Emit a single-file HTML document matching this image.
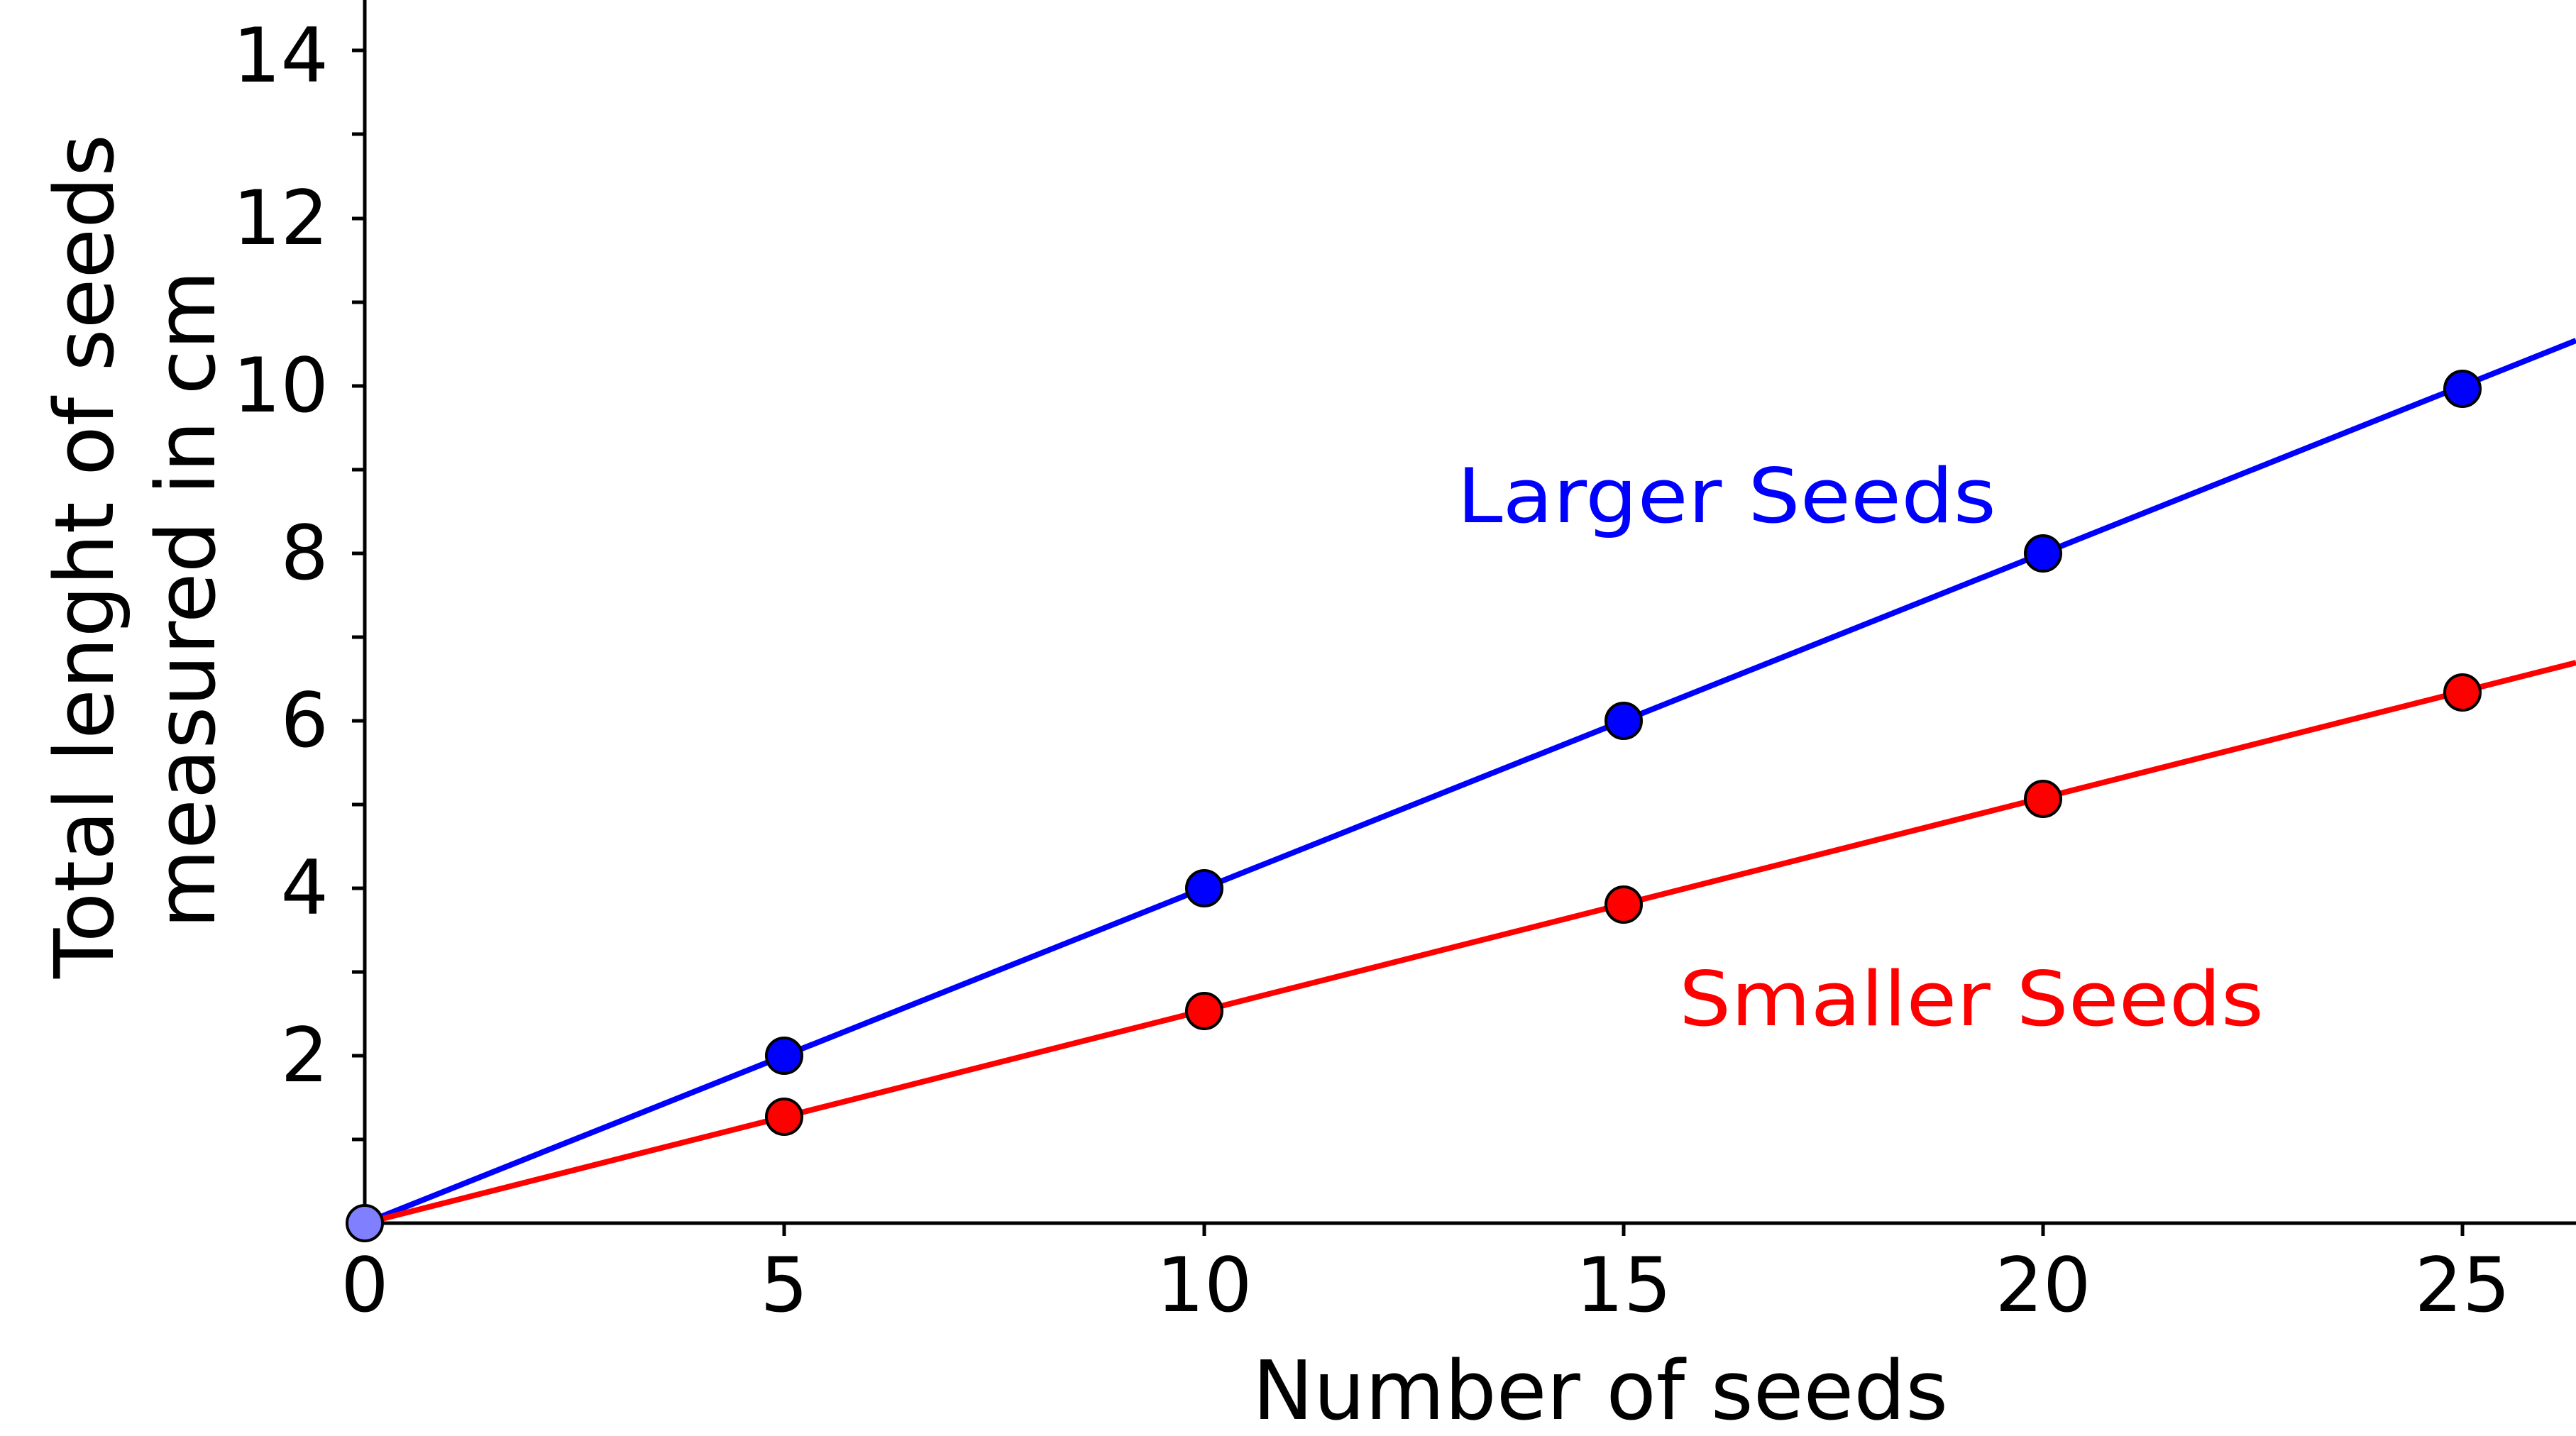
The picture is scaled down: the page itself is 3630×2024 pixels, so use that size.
<!DOCTYPE html>
<html><head><meta charset="utf-8"><style>
html,body{margin:0;padding:0;background:#fff;}
svg{display:block;}
text{font-family:"DejaVu Sans","Liberation Sans",sans-serif;}
</style></head><body>
<svg width="3630" height="2024" viewBox="0 0 3630 2024" xmlns="http://www.w3.org/2000/svg">
<rect width="3630" height="2024" fill="#fff"/>
<line x1="514" y1="0" x2="514" y2="1724" stroke="#000" stroke-width="5"/>
<line x1="512" y1="1724" x2="3630" y2="1724" stroke="#000" stroke-width="5"/>
<g stroke="#000" stroke-width="5">
<line x1="496" y1="1606" x2="514" y2="1606"/>
<line x1="496" y1="1488" x2="514" y2="1488"/>
<line x1="496" y1="1370" x2="514" y2="1370"/>
<line x1="496" y1="1252" x2="514" y2="1252"/>
<line x1="496" y1="1134" x2="514" y2="1134"/>
<line x1="496" y1="1016" x2="514" y2="1016"/>
<line x1="496" y1="898" x2="514" y2="898"/>
<line x1="496" y1="780" x2="514" y2="780"/>
<line x1="496" y1="662" x2="514" y2="662"/>
<line x1="496" y1="544" x2="514" y2="544"/>
<line x1="496" y1="426" x2="514" y2="426"/>
<line x1="496" y1="308" x2="514" y2="308"/>
<line x1="496" y1="189" x2="514" y2="189"/>
<line x1="496" y1="71" x2="514" y2="71"/>
<line x1="1105" y1="1724" x2="1105" y2="1742"/>
<line x1="1697" y1="1724" x2="1697" y2="1742"/>
<line x1="2288" y1="1724" x2="2288" y2="1742"/>
<line x1="2879" y1="1724" x2="2879" y2="1742"/>
<line x1="3470" y1="1724" x2="3470" y2="1742"/>
</g>
<g font-size="106" text-anchor="end" fill="#000">
<text x="463" y="1524">2</text>
<text x="463" y="1288">4</text>
<text x="463" y="1052">6</text>
<text x="463" y="816">8</text>
<text x="463" y="580">10</text>
<text x="463" y="344">12</text>
<text x="463" y="115">14</text>
</g>
<g font-size="106" text-anchor="middle" fill="#000">
<text x="514" y="1848">0</text>
<text x="1105" y="1848">5</text>
<text x="1697" y="1848">10</text>
<text x="2288" y="1848">15</text>
<text x="2879" y="1848">20</text>
<text x="3470" y="1848">25</text>
</g>
<text x="2255" y="2000" font-size="115" text-anchor="middle" fill="#000">Number of seeds</text>
<text transform="translate(159,784) rotate(-90)" font-size="115" text-anchor="middle" fill="#000">Total lenght of seeds</text>
<text transform="translate(302,845) rotate(-90)" font-size="115" text-anchor="middle" fill="#000">measured in cm</text>
<line x1="514" y1="1724" x2="3630" y2="480" stroke="#0000ff" stroke-width="8"/>
<line x1="514" y1="1724" x2="3630" y2="934" stroke="#ff0000" stroke-width="8"/>
<g stroke="#000" stroke-width="4">
<circle cx="1105" cy="1574" r="25" fill="#ff0000"/>
<circle cx="1697" cy="1425" r="25" fill="#ff0000"/>
<circle cx="2288" cy="1275" r="25" fill="#ff0000"/>
<circle cx="2879" cy="1126" r="25" fill="#ff0000"/>
<circle cx="3470" cy="976" r="25" fill="#ff0000"/>
<circle cx="1105" cy="1488" r="25" fill="#0000ff"/>
<circle cx="1697" cy="1252" r="25" fill="#0000ff"/>
<circle cx="2288" cy="1016" r="25" fill="#0000ff"/>
<circle cx="2879" cy="780" r="25" fill="#0000ff"/>
<circle cx="3470" cy="548" r="25" fill="#0000ff"/>
<circle cx="514" cy="1724" r="25" fill="#8080ff"/>
</g>
<text x="2053" y="736" font-size="106" fill="#0000ff" textLength="760" lengthAdjust="spacingAndGlyphs">Larger Seeds</text>
<text x="2366" y="1445" font-size="106" fill="#ff0000" textLength="824" lengthAdjust="spacingAndGlyphs">Smaller Seeds</text>
</svg>
</body></html>
